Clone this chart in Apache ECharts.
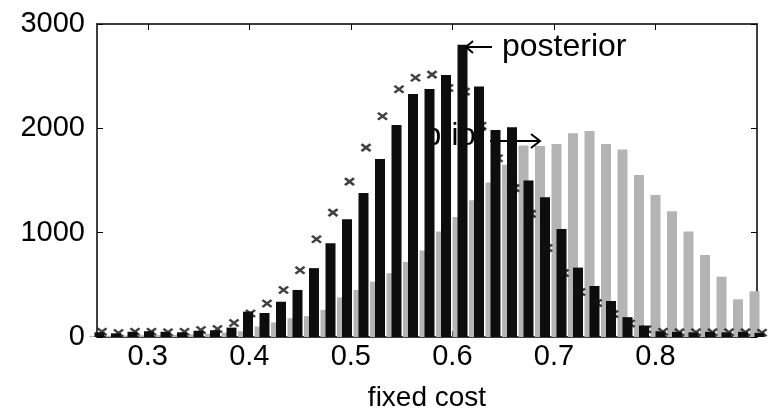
<!DOCTYPE html>
<html>
<head>
<meta charset="utf-8">
<script src="https://cdn.jsdelivr.net/npm/echarts@6/dist/echarts.min.js"></script>
<style>
html,body{margin:0;padding:0;background:#fff;}
#chart{width:771px;height:415px;}
</style>
</head>
<body>
<div id="chart"></div>
<script>
// Bin centres (fixed cost)
var binCenters = [0.25, 0.26625, 0.2825, 0.29875, 0.315, 0.33125, 0.3475, 0.36375, 0.38, 0.39625,
  0.4125, 0.42875, 0.445, 0.46125, 0.4775, 0.49375, 0.51, 0.52625, 0.5425, 0.55875,
  0.575, 0.59125, 0.6075, 0.62375, 0.64, 0.65625, 0.6725, 0.68875, 0.705, 0.72125,
  0.7375, 0.75375, 0.77, 0.78625, 0.8025, 0.81875, 0.835, 0.85125, 0.8675, 0.88375, 0.9];
// Prior histogram (grey stippled bars)
var priorCounts = [10, 12, 14, 16, 18, 22, 26, 32, 42, 55,
  100, 140, 180, 200, 260, 380, 450, 530, 612, 720,
  830, 1010, 1150, 1310, 1480, 1650, 1835, 1831, 1850, 1953,
  1975, 1850, 1797, 1553, 1361, 1205, 1010, 786, 578, 361, 438];
// Posterior histogram (black bars)
var posteriorCounts = [45, 35, 50, 55, 50, 45, 60, 65, 90, 243,
  230, 338, 451, 660, 899, 1129, 1380, 1706, 2033, 2328,
  2376, 2512, 2800, 2400, 1985, 2010, 1499, 1339, 1035, 665,
  489, 345, 190, 110, 55, 50, 45, 50, 45, 50, 40];
// x-marker series
var markerCounts = [51, 38, 50, 50, 45, 50, 67, 77, 134, 225,
  321, 450, 640, 937, 1192, 1489, 1815, 2115, 2375, 2485,
  2515, 2387, 2352, 2025, 1713, 1427, 1180, 853, 614, 432,
  326, 220, 130, 75, 50, 45, 45, 45, 45, 45, 40];
var xTicks = [0.3, 0.4, 0.5, 0.6, 0.7, 0.8];
var xTickLabels = ['0.3', '0.4', '0.5', '0.6', '0.7', '0.8'];
var yTicks = [0, 1000, 2000, 3000];
var yTickLabels = ['0', '1000', '2000', '3000'];
var xTitle = 'fixed cost';
var priorText = 'prior';
var posteriorText = 'posterior';

function pairs(vals) {
  return binCenters.map(function (x, i) { return [x, vals[i]]; });
}

var FONT = 'Liberation Sans, Arial, sans-serif';
var chart = echarts.init(document.getElementById('chart'), null, {renderer: 'canvas'});
chart.setOption({
  animation: false,
  backgroundColor: '#fff',
  grid: {left: 97, right: 14, top: 24, bottom: 78, containLabel: false, outerBoundsMode: 'none'},
  xAxis: [{
    type: 'value', min: 0.25, max: 0.9, position: 'bottom',
    name: xTitle, nameLocation: 'middle', nameGap: 47,
    nameTextStyle: {fontFamily: FONT, fontSize: 28, color: '#000'},
    axisLine: {show: true, onZero: false, lineStyle: {color: '#000', width: 1.5}},
    axisTick: {show: true, inside: true, length: 6, customValues: xTicks, lineStyle: {color: '#000'}},
    axisLabel: {show: true, customValues: xTicks, margin: 5, fontFamily: FONT, fontSize: 29, color: '#000',
      formatter: function (v) { var i = xTicks.indexOf(+v.toFixed(2)); return i >= 0 ? xTickLabels[i] : ''; }},
    splitLine: {show: false}
  }, {
    type: 'value', min: 0.25, max: 0.9, position: 'top',
    axisLine: {show: true, onZero: false, lineStyle: {color: '#000', width: 1.5}},
    axisTick: {show: true, inside: true, length: 6, customValues: xTicks, lineStyle: {color: '#000'}},
    axisLabel: {show: false},
    splitLine: {show: false}
  }],
  yAxis: [{
    type: 'value', min: 0, max: 3000, interval: 1000, position: 'left',
    axisLine: {show: true, onZero: false, lineStyle: {color: '#000', width: 1.5}},
    axisTick: {show: true, inside: true, length: 6, lineStyle: {color: '#000'}},
    axisLabel: {show: true, margin: 12, fontFamily: FONT, fontSize: 29, color: '#000',
      formatter: function (v) { var i = yTicks.indexOf(v); return i >= 0 ? yTickLabels[i] : ''; }},
    splitLine: {show: false}
  }, {
    type: 'value', min: 0, max: 3000, interval: 1000, position: 'right',
    axisLine: {show: true, onZero: false, lineStyle: {color: '#000', width: 1.5}},
    axisTick: {show: true, inside: true, length: 6, lineStyle: {color: '#000'}},
    axisLabel: {show: false},
    splitLine: {show: false}
  }],
  series: [{
    name: 'prior', type: 'bar', xAxisIndex: 0, yAxisIndex: 0,
    data: pairs(priorCounts), barWidth: 10, barGap: '-50%',
    itemStyle: {color: '#b4b4b4'}, z: 2
  }, {
    name: 'posterior', type: 'bar', xAxisIndex: 0, yAxisIndex: 0,
    data: pairs(posteriorCounts), barWidth: 10, barGap: '-50%',
    itemStyle: {color: '#0d0d0d'}, z: 3
  }, {
    name: 'markers', type: 'scatter', xAxisIndex: 0, yAxisIndex: 0,
    data: pairs(markerCounts), clip: false,
    symbol: 'path://M0,0L10,10M10,0L0,10', symbolSize: [9, 7], symbolOffset: [5, 0],
    itemStyle: {color: 'none', borderColor: '#111', borderWidth: 2.5}, z: 4
  }],
  graphic: [{
    type: 'text', z: 0, zlevel: 0,
    style: {text: priorText, x: 424, y: 136, font: '31px ' + FONT, fill: '#000', verticalAlign: 'middle'}
  }, {
    type: 'polyline', z: 0,
    shape: {points: [[490, 141], [540, 141]]}, style: {stroke: '#000', lineWidth: 2, fill: null}
  }, {
    type: 'polyline', z: 0,
    shape: {points: [[531, 134], [540, 141], [531, 148]]}, style: {stroke: '#000', lineWidth: 2, fill: null}
  }, {
    type: 'text', z: 10,
    style: {text: posteriorText, x: 502, y: 47, font: '32px ' + FONT, fill: '#000', verticalAlign: 'middle'}
  }, {
    type: 'polyline', z: 10,
    shape: {points: [[466, 47], [492, 47]]}, style: {stroke: '#000', lineWidth: 2, fill: null}
  }, {
    type: 'polyline', z: 10,
    shape: {points: [[473, 41], [466, 47], [473, 53]]}, style: {stroke: '#000', lineWidth: 2, fill: null}
  }]
});
</script>
</body>
</html>
